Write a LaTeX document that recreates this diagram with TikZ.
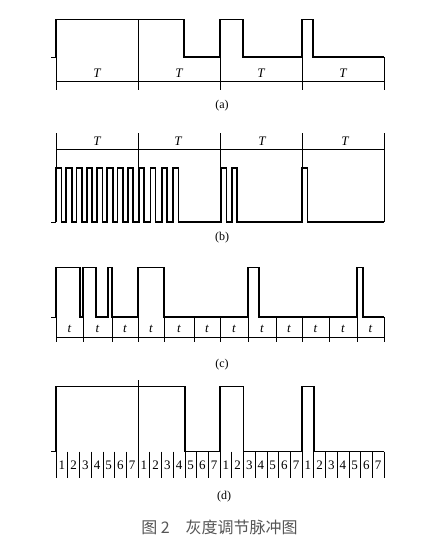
\documentclass[tikz,border=0pt]{standalone}
\usepackage{fontspec}
\usepackage{xcolor}
\usetikzlibrary{positioning}
\setmainfont{Liberation Serif}
\newfontfamily\cjk{Noto Sans CJK SC}
\definecolor{capgray}{RGB}{85,85,85}

\begin{document}
\begin{tikzpicture}[x=1pt, y=-1pt,
    signal/.style={line width=1.6pt, line join=miter},
    gridline/.style={line width=0.7pt},
    plabel/.style={font=\fontsize{13}{13}\selectfont\itshape, inner sep=0pt},
    cellnum/.style={font=\fontsize{13}{13}\selectfont, inner sep=0pt},
    subcap/.style={font=\fontsize{12}{12}\selectfont, inner sep=0pt},
]
\useasboundingbox (0,0) rectangle (444,539);

% (a)
\draw[gridline] (56,81) -- (384,81);
\foreach \x in {56,138,220,302,384} \draw[gridline] (\x,57) -- (\x,90);
\draw[gridline] (138,19.5) -- (138,57);
\draw[gridline] (51,57) -- (56,57);
\draw[signal] (56,57) -- (56,19.5) -- (184,19.5) -- (184,57) -- (220,57) -- (220,19.5)
  -- (243,19.5) -- (243,57) -- (302,57) -- (302,19.5) -- (313,19.5) -- (313,57) -- (384,57);
\foreach \c [count=\i] in {97,179,261,343} \node[plabel] (Ta\i) at (\c,73) {T};
\node[subcap] (capa) at (222,106) {(a)};

% (b)
\draw[gridline] (56,149) -- (384,149);
\foreach \x in {56,138,220,302,384} \draw[gridline] (\x,133) -- (\x,168);
\draw[gridline] (384,168) -- (384,222);
\draw[gridline] (51,222) -- (56,222);
\draw[signal] (56,222)
  \foreach \s/\w in {56/5.5,66.25/5.5,76.5/5.5,86.75/5.5,97/5.5,107.25/5.5,117.5/5.5,127.75/5.5,
                     139/5.2,150.4/5.2,161.8/5.2,173.2/5.2,221/5.3,231.7/5.3,302/5.5}
  { -- (\s,222) -- (\s,168) -- (\s+\w,168) -- (\s+\w,222) } -- (384,222);
\foreach \c [count=\i] in {97,178,262,345} \node[plabel] (Tb\i) at (\c,141) {T};
\node[subcap] (capb) at (222,238) {(b)};

% (c)
\draw[gridline] (56,337) -- (384,337);
\foreach \a/\b [count=\i] in {56/83,83/112,112/138,138/164,164/194,194/220,
                              220/248,248/276,276/302,302/329,329/357,357/384}
{
  \draw[gridline] (\a,317) -- (\a,342);
  \node[plabel] (t\i) at ({(\a+\b)/2},329) {t};
}
\draw[gridline] (384,317) -- (384,342);
\draw[gridline] (51,317) -- (56,317);
\draw[signal] (56,317) -- (56,267.5) -- (80,267.5) -- (80,317) -- (83,317) -- (83,267.5)
  -- (96,267.5) -- (96,317) -- (108,317) -- (108,267.5) -- (112,267.5) -- (112,317)
  -- (138,317) -- (138,267.5) -- (164,267.5) -- (164,317) -- (248,317) -- (248,267.5)
  -- (259,267.5) -- (259,317) -- (357,317) -- (357,267.5) -- (363,267.5) -- (363,317) -- (384,317);
\node[subcap] (capc) at (222,365) {(c)};

% (d)
\foreach \k in {0,...,28} \draw[gridline] ({56+\k*11.714},451.5) -- ({56+\k*11.714},478);
\foreach \k in {0,...,27}
{
  \pgfmathtruncatemacro{\n}{mod(\k,7)+1}
  \node[cellnum] (n\k) at ({61.86+\k*11.714},465.5) {\n};
}
\draw[gridline] (138,380) -- (138,451.5);
\draw[gridline] (51,451.5) -- (56,451.5);
\draw[signal] (56,451.5) -- (56,386.5) -- (184.9,386.5) -- (184.9,451.5) -- (220,451.5) -- (220,386.5)
  -- (243.4,386.5) -- (243.4,451.5) -- (302,451.5) -- (302,386.5) -- (313.7,386.5) -- (313.7,451.5) -- (384,451.5);
\node[subcap] (capd) at (224,497) {(d)};

\node[font=\cjk\fontsize{16}{16}\selectfont, text=capgray, inner sep=0pt] (title) at (219.5,527) {图 2\quad 灰度调节脉冲图};
\end{tikzpicture}
\end{document}
